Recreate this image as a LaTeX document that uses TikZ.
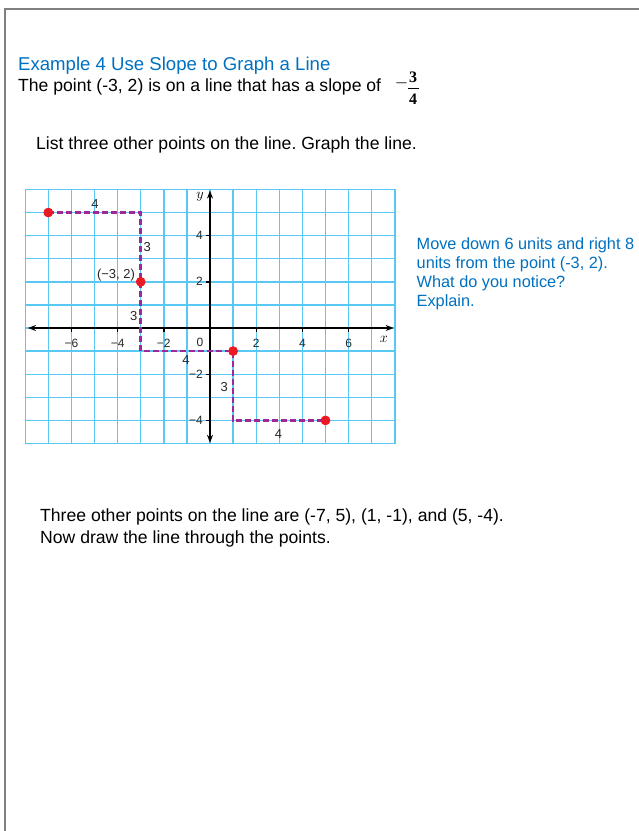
\documentclass[tikz,border=0pt]{standalone}
\usepackage{fontspec}
\setmainfont{Liberation Sans}
\newfontfamily\fracfont{Liberation Serif}
\usetikzlibrary{arrows.meta}
\frenchspacing
\definecolor{titleblue}{RGB}{0,112,192}
\definecolor{gridblue}{RGB}{90,200,245}
\definecolor{dashpurple}{RGB}{158,40,150}
\definecolor{dotred}{RGB}{235,25,35}
\definecolor{framegray}{RGB}{128,128,128}
\definecolor{ticktext}{RGB}{40,40,40}
\begin{document}
\begin{tikzpicture}[x=1pt,y=-1pt,
  bodytext/.style={anchor=base west, inner sep=0pt, font=\fontsize{17.6}{20}\selectfont},
  bluetext/.style={anchor=base west, inner sep=0pt, text=titleblue, font=\fontsize{16.3}{19}\selectfont},
  titletext/.style={anchor=base west, inner sep=0pt, text=titleblue, font=\fontsize{18.6}{21}\selectfont},
  gridline/.style={gridblue, line width=1.4pt},
  axisline/.style={black, line width=1.8pt, {Stealth[length=8pt,width=6pt]}-{Stealth[length=8pt,width=6pt]}},
  tickline/.style={black, line width=1.4pt},
  ticklabel/.style={inner sep=0pt, text=ticktext, font=\fontsize{12}{13}\selectfont},
  steplabel/.style={inner sep=0pt, text=black!85, font=\fontsize{13}{14}\selectfont},
  dashpath/.style={dashpurple, line width=2.7pt, dash pattern=on 6pt off 3pt},
  reddot/.style={circle, fill=dotred, minimum size=9.5pt, inner sep=0pt},
  frameline/.style={framegray, line width=2pt},
  fracdigit/.style={inner sep=0pt, font=\fontsize{16}{16}\fracfont\bfseries}
]
\useasboundingbox (0,0) rectangle (639,831);
% frame
\coordinate (fbl) at (5,831);
\coordinate (ftl) at (5,9);
\coordinate (ftr) at (639,9);
\draw[frameline] (fbl) -- (ftl) -- (ftr);

% header texts
\node[titletext] (title) at (18,70.7) {Example 4 Use Slope to Graph a Line};
\node[bodytext] (intro) at (18,91.7) {The point (-3, 2) is on a line that has a slope of};
\node[inner sep=0pt, font=\fontsize{22}{22}\fracfont, text=black!70] (fminus) at (401.5,87) {−};
\node[fracdigit] (fnum) at (413,77) {3};
\node[fracdigit] (fden) at (413,99.5) {4};
\coordinate (fbarl) at (407.5,88.3);
\coordinate (fbarr) at (418.5,88.3);
\draw[line width=1pt] (fbarl) -- (fbarr);
\node[bodytext] (task) at (36,149.3) {List three other points on the line. Graph the line.};

% side question
\node[bluetext] (q1) at (416.5,249) {Move down 6 units and right 8};
\node[bluetext] (q2) at (416.5,268.3) {units from the point (-3, 2).};
\node[bluetext] (q3) at (416.5,287.6) {What do you notice?};
\node[bluetext] (q4) at (416.5,306.9) {Explain.};

% answer
\node[bodytext] (ans1) at (40,521) {Three other points on the line are (-7, 5), (1, -1), and (5, -4).};
\node[bodytext] (ans2) at (40,543) {Now draw the line through the points.};

% graph
\begin{scope}[shift={(210,328)}, x=23.1pt, y=23.1pt]
  \foreach \i in {-8,...,8}{\draw[gridline] (\i,-5) -- (\i,6);}
  \foreach \j in {-5,...,6}{\draw[gridline] (-8,\j) -- (8,\j);}
  \coordinate (xl) at (-7.88,0);
  \coordinate (xr) at (7.95,0);
  \coordinate (yb) at (0,-4.97);
  \coordinate (yt) at (0,5.95);
  \draw[axisline] (xl) -- (xr);
  \draw[axisline] (yb) -- (yt);
  \foreach \v/\t in {-6/−6,-4/−4,-2/−2,2/2,4/4,6/6}{
    \draw[tickline] (\v,0) -- ++(0,-0.18);
    \node[ticklabel] (xt\v) at (\v,-0.68) {\t};
  }
  \foreach \v/\t in {-4/−4,-2/−2,2/2,4/4}{
    \draw[tickline] (0,\v) -- ++(-0.18,0);
    \node[ticklabel, anchor=east] (yt\v) at (-0.3,\v) {\t};
  }
  \node[ticklabel] (zero) at (-0.43,-0.64) {0};
  \node[inner sep=0pt, font=\fontsize{14}{14}\selectfont] (xlab) at (7.53,-0.5) {$x$};
  \node[inner sep=0pt, font=\fontsize{14}{14}\selectfont] (ylab) at (-0.43,5.68) {$y$};

  \coordinate (c1) at (-3,5);
  \coordinate (c2) at (-3,-1);
  \coordinate (c3) at (1,-4);
  \node[reddot] (p1) at (-7,5) {};
  \node[reddot] (p2) at (-3,2) {};
  \node[reddot] (p3) at (1,-1) {};
  \node[reddot] (p4) at (5,-4) {};
  \draw[dashpath] (p1.center) -- (c1) -- (c2) -- (p3.center) -- (c3) -- (p4.center);
  \node[reddot] at (p1) {};
  \node[reddot] at (p2) {};
  \node[reddot] at (p3) {};
  \node[reddot] at (p4) {};

  \node[steplabel] (s1) at (-4.98,5.38) {4};
  \node[steplabel] (s2) at (-2.72,3.5) {3};
  \node[steplabel] (pt) at (-4.07,2.3) {(−3, 2)};
  \node[steplabel] (s3) at (-3.3,0.5) {3};
  \node[steplabel] (s4) at (-1.04,-1.4) {4};
  \node[steplabel] (s5) at (0.62,-2.56) {3};
  \node[steplabel] (s6) at (2.96,-4.58) {4};
\end{scope}
\end{tikzpicture}
\end{document}
